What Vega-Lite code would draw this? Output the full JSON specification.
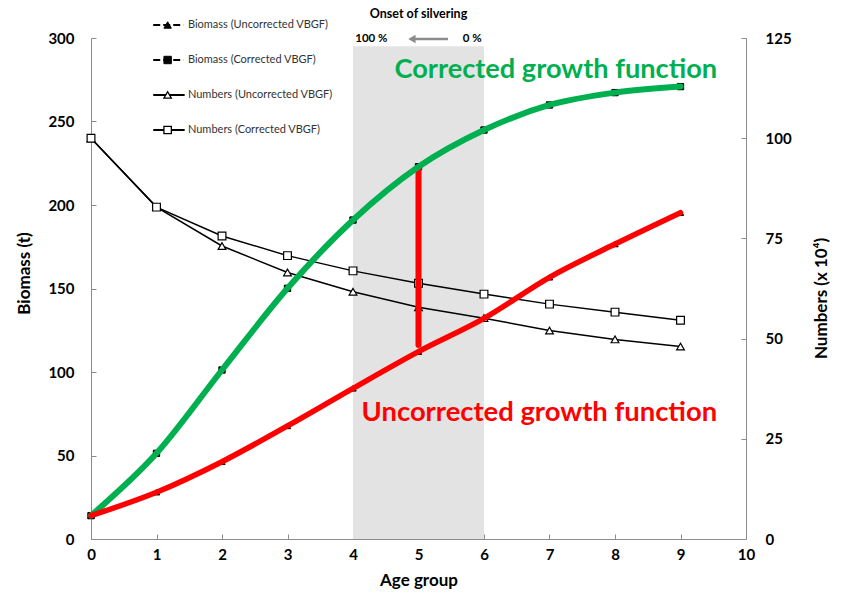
{
  "$schema": "https://vega.github.io/schema/vega-lite/v6.json",
  "width": 655,
  "height": 501,
  "autosize": {"type": "none"},
  "padding": {"left": 91, "top": 38, "right": 96, "bottom": 63},
  "background": "white",
  "data": {"values": [{}]},
  "config": {
    "view": {"stroke": null},
    "font": "Lato",
    "axis": {
      "grid": false,
      "domainColor": "#8c8c8c",
      "tickColor": "#8c8c8c",
      "labelFont": "Lato",
      "labelFontWeight": "bold",
      "labelFontSize": 15,
      "labelColor": "#000000",
      "titleFont": "Lato",
      "titleFontWeight": "bold",
      "titleFontSize": 17,
      "titleColor": "#000000",
      "tickSize": -5,
      "labelFlush": false
    }
  },
  "datasets": {
    "growth": [
      {"age": 0, "series": "Biomass (Uncorrected VBGF)", "measure": "Biomass", "value": 14},
      {"age": 1, "series": "Biomass (Uncorrected VBGF)", "measure": "Biomass", "value": 28.0},
      {"age": 2, "series": "Biomass (Uncorrected VBGF)", "measure": "Biomass", "value": 46.3},
      {"age": 3, "series": "Biomass (Uncorrected VBGF)", "measure": "Biomass", "value": 67.7},
      {"age": 4, "series": "Biomass (Uncorrected VBGF)", "measure": "Biomass", "value": 90.2},
      {"age": 5, "series": "Biomass (Uncorrected VBGF)", "measure": "Biomass", "value": 112.2},
      {"age": 6, "series": "Biomass (Uncorrected VBGF)", "measure": "Biomass", "value": 132.1},
      {"age": 7, "series": "Biomass (Uncorrected VBGF)", "measure": "Biomass", "value": 156.7},
      {"age": 8, "series": "Biomass (Uncorrected VBGF)", "measure": "Biomass", "value": 176.6},
      {"age": 9, "series": "Biomass (Uncorrected VBGF)", "measure": "Biomass", "value": 195.4},
      {"age": 0, "series": "Biomass (Corrected VBGF)", "measure": "Biomass", "value": 14},
      {"age": 1, "series": "Biomass (Corrected VBGF)", "measure": "Biomass", "value": 51.3},
      {"age": 2, "series": "Biomass (Corrected VBGF)", "measure": "Biomass", "value": 101.2},
      {"age": 3, "series": "Biomass (Corrected VBGF)", "measure": "Biomass", "value": 150.1},
      {"age": 4, "series": "Biomass (Corrected VBGF)", "measure": "Biomass", "value": 191.0},
      {"age": 5, "series": "Biomass (Corrected VBGF)", "measure": "Biomass", "value": 222.9},
      {"age": 6, "series": "Biomass (Corrected VBGF)", "measure": "Biomass", "value": 244.9},
      {"age": 7, "series": "Biomass (Corrected VBGF)", "measure": "Biomass", "value": 259.9},
      {"age": 8, "series": "Biomass (Corrected VBGF)", "measure": "Biomass", "value": 267.3},
      {"age": 9, "series": "Biomass (Corrected VBGF)", "measure": "Biomass", "value": 270.9},
      {"age": 0, "series": "Numbers (Uncorrected VBGF)", "measure": "Numbers", "value": 100},
      {"age": 1, "series": "Numbers (Uncorrected VBGF)", "measure": "Numbers", "value": 82.8},
      {"age": 2, "series": "Numbers (Uncorrected VBGF)", "measure": "Numbers", "value": 73.1},
      {"age": 3, "series": "Numbers (Uncorrected VBGF)", "measure": "Numbers", "value": 66.5},
      {"age": 4, "series": "Numbers (Uncorrected VBGF)", "measure": "Numbers", "value": 61.7},
      {"age": 5, "series": "Numbers (Uncorrected VBGF)", "measure": "Numbers", "value": 57.8},
      {"age": 6, "series": "Numbers (Uncorrected VBGF)", "measure": "Numbers", "value": 55.1},
      {"age": 7, "series": "Numbers (Uncorrected VBGF)", "measure": "Numbers", "value": 52.0},
      {"age": 8, "series": "Numbers (Uncorrected VBGF)", "measure": "Numbers", "value": 49.8},
      {"age": 9, "series": "Numbers (Uncorrected VBGF)", "measure": "Numbers", "value": 48.0},
      {"age": 0, "series": "Numbers (Corrected VBGF)", "measure": "Numbers", "value": 100},
      {"age": 1, "series": "Numbers (Corrected VBGF)", "measure": "Numbers", "value": 82.8},
      {"age": 2, "series": "Numbers (Corrected VBGF)", "measure": "Numbers", "value": 75.6},
      {"age": 3, "series": "Numbers (Corrected VBGF)", "measure": "Numbers", "value": 70.7},
      {"age": 4, "series": "Numbers (Corrected VBGF)", "measure": "Numbers", "value": 66.9},
      {"age": 5, "series": "Numbers (Corrected VBGF)", "measure": "Numbers", "value": 63.8},
      {"age": 6, "series": "Numbers (Corrected VBGF)", "measure": "Numbers", "value": 61.1},
      {"age": 7, "series": "Numbers (Corrected VBGF)", "measure": "Numbers", "value": 58.6},
      {"age": 8, "series": "Numbers (Corrected VBGF)", "measure": "Numbers", "value": 56.6},
      {"age": 9, "series": "Numbers (Corrected VBGF)", "measure": "Numbers", "value": 54.6}
    ]
  },
  "layer": [
    {
      "layer": [
        {
          "mark": {"type": "rect", "color": "#e3e3e3"},
          "encoding": {
            "x": {"datum": 4, "type": "quantitative", "scale": {"domain": [0, 10], "nice": false}},
            "x2": {"datum": 6},
            "y": {"datum": 0, "type": "quantitative", "scale": {"domain": [0, 300], "nice": false}},
            "y2": {"datum": 295}
          }
        },
        {
          "data": {"name": "growth"},
          "transform": [{"filter": "datum.measure === 'Biomass'"}],
          "mark": {"type": "line", "color": "#000000", "strokeDash": [4, 3], "strokeWidth": 1.5},
          "encoding": {
            "x": {"field": "age", "type": "quantitative",
                  "axis": {"values": [0,1,2,3,4,5,6,7,8,9,10], "format": "d", "labelFlush": false, "title": "Age group", "labelPadding": 13, "titlePadding": 10}},
            "y": {"field": "value", "type": "quantitative",
                  "axis": {"values": [0,50,100,150,200,250,300], "format": "d", "title": "Biomass (t)", "orient": "left", "labelPadding": 22, "titlePadding": 14, "titleY": 235}},
            "detail": {"field": "series"}
          }
        },
        {
          "data": {"name": "growth"},
          "transform": [{"filter": "datum.measure === 'Biomass'"}],
          "mark": {"type": "point", "filled": true, "fill": "#000000", "stroke": "#000000", "strokeWidth": 1, "size": 40, "opacity": 1},
          "encoding": {
            "x": {"field": "age", "type": "quantitative"},
            "y": {"field": "value", "type": "quantitative"},
            "shape": {"field": "series", "type": "nominal", "legend": null,
              "scale": {
                "domain": ["Biomass (Uncorrected VBGF)", "Biomass (Corrected VBGF)", "Numbers (Uncorrected VBGF)", "Numbers (Corrected VBGF)"],
                "range": ["triangle-up", "square", "triangle-up", "square"]
              }}
          }
        },
        {
          "mark": {"type": "text", "fontWeight": "bold", "fontSize": 12.5, "font": "Lato", "color": "#000000"},
          "encoding": {"x": {"datum": 5, "type": "quantitative"}, "y": {"datum": 314.4, "type": "quantitative"}, "text": {"value": "Onset of silvering"}}
        },
        {
          "mark": {"type": "text", "fontWeight": "bold", "fontSize": 11.5, "font": "Lato", "color": "#000000"},
          "encoding": {"x": {"datum": 4.28, "type": "quantitative"}, "y": {"datum": 299.4, "type": "quantitative"}, "text": {"value": "100 %"}}
        },
        {
          "mark": {"type": "text", "fontWeight": "bold", "fontSize": 11.5, "font": "Lato", "color": "#000000"},
          "encoding": {"x": {"datum": 5.82, "type": "quantitative"}, "y": {"datum": 299.4, "type": "quantitative"}, "text": {"value": "0 %"}}
        },
        {
          "mark": {"type": "rule", "color": "#8c8c8c", "strokeWidth": 2.5},
          "encoding": {"x": {"datum": 4.92, "type": "quantitative"}, "x2": {"datum": 5.45}, "y": {"datum": 299.4, "type": "quantitative"}}
        },
        {
          "mark": {"type": "point", "shape": "triangle-left", "filled": true, "color": "#8c8c8c", "size": 70, "opacity": 1},
          "encoding": {"x": {"datum": 4.9, "type": "quantitative"}, "y": {"datum": 299.4, "type": "quantitative"}}
        }
      ]
    },
    {
      "data": {"name": "growth"},
      "transform": [{"filter": "datum.measure === 'Numbers'"}],
      "layer": [
        {
          "mark": {"type": "line", "color": "#000000", "strokeWidth": 1.5},
          "encoding": {
            "x": {"field": "age", "type": "quantitative"},
            "y": {"field": "value", "type": "quantitative", "scale": {"domain": [0, 125], "nice": false},
                  "axis": {"orient": "right", "values": [0,25,50,75,100,125], "format": "d", "title": "Numbers  (x 10⁴)", "labelPadding": 24, "titlePadding": 39, "titleAngle": 270, "titleY": 260}},
            "detail": {"field": "series"}
          }
        },
        {
          "mark": {"type": "point", "filled": true, "fill": "#ffffff", "stroke": "#000000", "strokeWidth": 1.2, "size": 60, "opacity": 1},
          "encoding": {
            "x": {"field": "age", "type": "quantitative"},
            "y": {"field": "value", "type": "quantitative"},
            "shape": {"field": "series", "type": "nominal", "legend": null}
          }
        }
      ]
    },
    {
      "layer": [
        {
          "mark": {"type": "rule", "color": "#ff0000", "strokeWidth": 6, "strokeCap": "round"},
          "encoding": {
            "x": {"datum": 5, "type": "quantitative"},
            "y": {"datum": 116.2, "type": "quantitative", "scale": {"domain": [0, 300], "nice": false}, "axis": null},
            "y2": {"datum": 222}
          }
        },
        {
          "data": {"name": "growth"},
          "transform": [{"filter": "datum.series === 'Biomass (Corrected VBGF)'"}],
          "mark": {"type": "line", "color": "#00b050", "strokeWidth": 6, "strokeCap": "round", "interpolate": "monotone"},
          "encoding": {
            "x": {"field": "age", "type": "quantitative"},
            "y": {"field": "value", "type": "quantitative", "axis": null}
          }
        },
        {
          "data": {"name": "growth"},
          "transform": [{"filter": "datum.series === 'Biomass (Uncorrected VBGF)'"}],
          "mark": {"type": "line", "color": "#ff0000", "strokeWidth": 5.5, "strokeCap": "round", "interpolate": "monotone"},
          "encoding": {
            "x": {"field": "age", "type": "quantitative"},
            "y": {"field": "value", "type": "quantitative", "axis": null}
          }
        },
        {
          "mark": {"type": "text", "fontWeight": "bold", "fontSize": 27.2, "font": "Lato", "color": "#00b050", "align": "right"},
          "encoding": {"x": {"datum": 9.56, "type": "quantitative"}, "y": {"datum": 280.8, "type": "quantitative", "axis": null}, "text": {"value": "Corrected growth function"}}
        },
        {
          "mark": {"type": "text", "fontWeight": "bold", "fontSize": 27.4, "font": "Lato", "color": "#ff0000", "align": "right"},
          "encoding": {"x": {"datum": 9.56, "type": "quantitative"}, "y": {"datum": 75.4, "type": "quantitative", "axis": null}, "text": {"value": "Uncorrected growth function"}}
        }
      ]
    },
    {
      "data": {"name": "growth"},
      "transform": [{"filter": "datum.age === 0"}],
      "layer": [
        {
          "transform": [{"filter": "datum.measure === 'Biomass'"}],
          "mark": {"type": "rule", "color": "#000000", "strokeWidth": 2, "strokeDash": [7, 3]},
          "encoding": {
            "x": {"datum": 0.95, "type": "quantitative"},
            "x2": {"datum": 1.41},
            "y": {"field": "series", "type": "ordinal", "axis": null,
                  "scale": {"type": "point", "domain": ["Biomass (Uncorrected VBGF)", "Biomass (Corrected VBGF)", "Numbers (Uncorrected VBGF)", "Numbers (Corrected VBGF)"], "range": [-13, 92], "padding": 0}}
          }
        },
        {
          "transform": [{"filter": "datum.measure === 'Numbers'"}],
          "mark": {"type": "rule", "color": "#000000", "strokeWidth": 2},
          "encoding": {
            "x": {"datum": 0.95, "type": "quantitative"},
            "x2": {"datum": 1.43},
            "y": {"field": "series", "type": "ordinal", "axis": null}
          }
        },
        {
          "transform": [{"filter": "datum.measure === 'Biomass'"}],
          "mark": {"type": "point", "filled": true, "fill": "#000000", "stroke": "#000000", "strokeWidth": 1, "size": 55, "opacity": 1},
          "encoding": {
            "x": {"datum": 1.17, "type": "quantitative"},
            "y": {"field": "series", "type": "ordinal", "axis": null},
            "shape": {"field": "series", "type": "nominal", "legend": null}
          }
        },
        {
          "transform": [{"filter": "datum.measure === 'Numbers'"}],
          "mark": {"type": "point", "filled": true, "fill": "#ffffff", "stroke": "#000000", "strokeWidth": 1.3, "size": 55, "opacity": 1},
          "encoding": {
            "x": {"datum": 1.17, "type": "quantitative"},
            "y": {"field": "series", "type": "ordinal", "axis": null},
            "shape": {"field": "series", "type": "nominal", "legend": null}
          }
        },
        {
          "mark": {"type": "text", "align": "left", "baseline": "middle", "font": "Lato", "fontSize": 11, "color": "#333333"},
          "encoding": {
            "x": {"datum": 1.48, "type": "quantitative"},
            "y": {"field": "series", "type": "ordinal", "axis": null},
            "text": {"field": "series"}
          }
        }
      ]
    }
  ],
  "resolve": {"scale": {"y": "independent"}}
}
